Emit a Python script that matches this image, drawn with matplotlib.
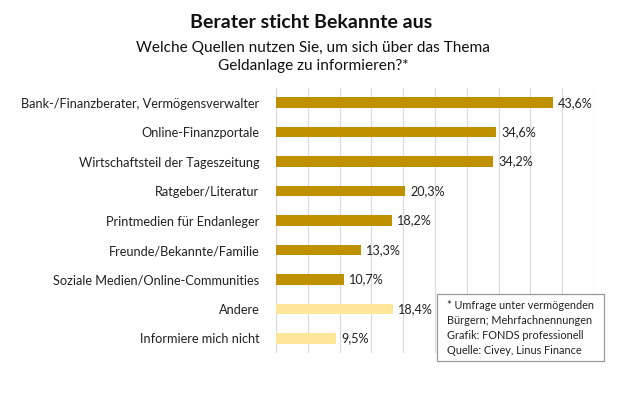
import matplotlib.pyplot as plt
from matplotlib.patches import Rectangle
import numpy as np

plt.rcParams['font.family'] = ['Lato', 'DejaVu Sans']

categories = ['Bank-/Finanzberater, Vermögensverwalter', 'Online-Finanzportale',
              'Wirtschaftsteil der Tageszeitung', 'Ratgeber/Literatur',
              'Printmedien für Endanleger', 'Freunde/Bekannte/Familie',
              'Soziale Medien/Online-Communities', 'Andere', 'Informiere mich nicht']
values = [43.6, 34.6, 34.2, 20.3, 18.2, 13.3, 10.7, 18.4, 9.5]
highlight = [True, True, True, True, True, True, True, False, False]
value_labels = ['43,6%', '34,6%', '34,2%', '20,3%', '18,2%', '13,3%', '10,7%', '18,4%', '9,5%']

dark = '#BF9000'
light = '#FFE699'

fig = plt.figure(figsize=(6.2, 4.13), dpi=100)
ax = fig.add_axes([0.445, 0.145, 0.513, 0.642])

y = np.arange(len(categories))
colors = [dark if h else light for h in highlight]
ax.barh(y, values, height=0.36, color=colors, zorder=3)
for yi, v, lab in zip(y, values, value_labels):
    ax.text(v + 0.8, yi, lab, va='center', ha='left', fontsize=9.1, color='#222222')

ax.set_xlim(0, 50)
ax.set_ylim(len(categories) - 0.5, -0.5)
ax.set_xticks(np.arange(0, 51, 5))
ax.set_xticklabels([])
ax.set_yticks(y)
ax.set_yticklabels(categories, fontsize=9.2, color='#222222')
ax.tick_params(length=0, pad=12)
ax.grid(axis='x', color='#D9D9D9', linewidth=0.9, zorder=0)
for s in ax.spines.values():
    s.set_visible(False)

fig.text(0.502, 0.945, 'Berater sticht Bekannte aus', ha='center', va='center',
         fontsize=14, fontweight='bold', color='#111111')
fig.text(0.505, 0.862, 'Welche Quellen nutzen Sie, um sich über das Thema\nGeldanlage zu informieren?*',
         ha='center', va='center', fontsize=11.1, color='#111111', linespacing=1.45)

# note box
fig.patches.append(Rectangle((437 / 620, 1 - 361 / 413), 167 / 620, 67 / 413,
                             transform=fig.transFigure, facecolor='white',
                             edgecolor='#999999', linewidth=0.9, zorder=5))
fig.text(447 / 620, 1 - 328 / 413,
         '* Umfrage unter vermögenden\nBürgern; Mehrfachnennungen\nGrafik: FONDS professionell\nQuelle: Civey, Linus Finance',
         ha='left', va='center', fontsize=7.8, color='#222222', linespacing=1.42, zorder=6)

fig.savefig('out.png', dpi=100)
